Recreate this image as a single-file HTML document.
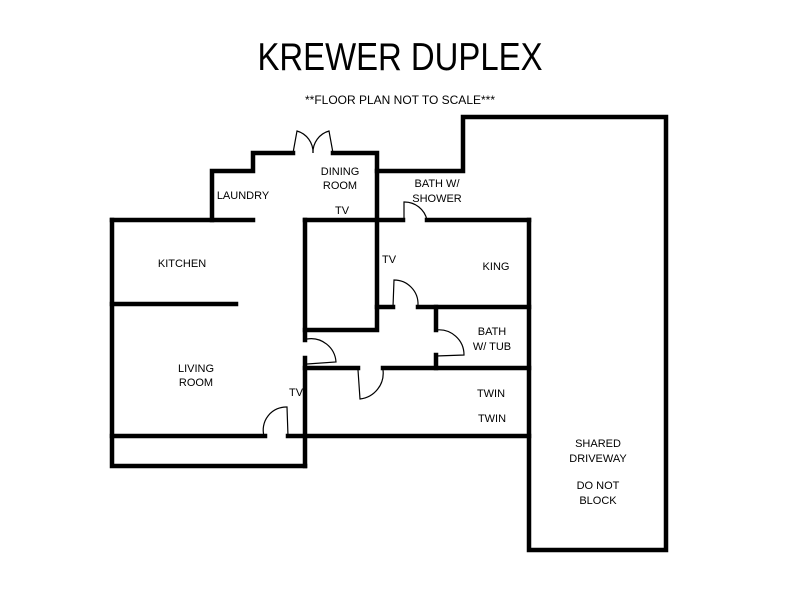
<!DOCTYPE html>
<html><head><meta charset="utf-8"><style>
html,body{margin:0;padding:0;background:#fff;}
svg{display:block;}
text{font-family:"Liberation Sans",sans-serif;fill:#000;}
</style></head><body>
<svg width="800" height="600" viewBox="0 0 800 600">
<text x="400" y="70" font-size="39" text-anchor="middle" textLength="285" lengthAdjust="spacingAndGlyphs">KREWER DUPLEX</text>
<text x="400" y="104" font-size="12" text-anchor="middle" textLength="190" lengthAdjust="spacingAndGlyphs">**FLOOR PLAN NOT TO SCALE***</text>
<g stroke="#000" stroke-width="4.5" fill="none" stroke-linecap="square">
<!-- outer left structure -->
<polyline points="112,220 112,466 305,466"/>
<line x1="112" y1="220" x2="253" y2="220"/>
<polyline points="212,220 212,171 253,171 253,153 293,153"/>
<polyline points="333,153 377,153 377,330 305,330"/>
<polyline points="377,171 463,171 463,117 666,117 666,550 529,550 529,220"/>
<line x1="305" y1="220" x2="403" y2="220"/>
<line x1="427" y1="220" x2="529" y2="220"/>
<line x1="305" y1="220" x2="305" y2="340"/>
<line x1="305" y1="358" x2="305" y2="466"/>
<line x1="112" y1="304" x2="236" y2="304"/>
<line x1="377" y1="307" x2="393" y2="307"/>
<line x1="418" y1="307" x2="529" y2="307"/>
<line x1="436" y1="307" x2="436" y2="330"/>
<line x1="436" y1="355" x2="436" y2="368"/>
<line x1="305" y1="368" x2="358" y2="368"/>
<line x1="383" y1="368" x2="529" y2="368"/>
<line x1="112" y1="436" x2="265" y2="436"/>
<line x1="288" y1="436" x2="529" y2="436"/>
</g>
<g stroke="#000" stroke-width="1.2" fill="none">
<!-- front double doors -->
<path d="M293,153 L297,131 A22,22 0 0 1 313,153"/>
<path d="M333,153 L329,131 A22,22 0 0 0 313,153"/>
<!-- bath shower door -->
<path d="M404,220 L404,202 A23,23 0 0 1 427,220"/>
<!-- king door -->
<path d="M393,307 L394,280 A24,24 0 0 1 418,305"/>
<!-- bath tub door -->
<path d="M436,330 A25,25 0 0 1 464,355 L436,356"/>
<!-- hall door at 305 -->
<path d="M307,339 A25,25 0 0 1 336,362 L307,364"/>
<!-- twin door -->
<path d="M383,370 A26,26 0 0 1 360,399 L358,370"/>
<!-- living door -->
<path d="M264,436 A23,23 0 0 1 287,407 L288,436"/>
</g>
<g font-size="11">
<text x="243" y="199" text-anchor="middle">LAUNDRY</text>
<text x="340" y="175" text-anchor="middle">DINING</text>
<text x="340" y="189" text-anchor="middle">ROOM</text>
<text x="342" y="214" text-anchor="middle">TV</text>
<text x="437" y="187" text-anchor="middle">BATH W/</text>
<text x="437" y="202" text-anchor="middle">SHOWER</text>
<text x="182" y="267" text-anchor="middle">KITCHEN</text>
<text x="389" y="263" text-anchor="middle">TV</text>
<text x="496" y="270" text-anchor="middle">KING</text>
<text x="492" y="335" text-anchor="middle">BATH</text>
<text x="492" y="350" text-anchor="middle">W/ TUB</text>
<text x="196" y="372" text-anchor="middle">LIVING</text>
<text x="196" y="386" text-anchor="middle">ROOM</text>
<text x="296" y="396" text-anchor="middle">TV</text>
<text x="491" y="397" text-anchor="middle">TWIN</text>
<text x="492" y="422" text-anchor="middle">TWIN</text>
<text x="598" y="447" text-anchor="middle">SHARED</text>
<text x="598" y="462" text-anchor="middle">DRIVEWAY</text>
<text x="598" y="489" text-anchor="middle">DO NOT</text>
<text x="598" y="504" text-anchor="middle">BLOCK</text>
</g>
</svg>
</body></html>
